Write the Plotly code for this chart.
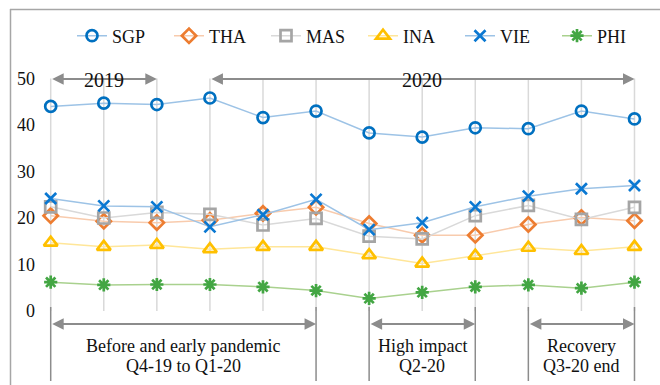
import plotly.graph_objects as go

# ---------------- data ----------------
months = ["Oct-19", "Nov-19", "Dec-19", "Jan-20", "Feb-20", "Mar-20",
          "Apr-20", "May-20", "Jun-20", "Jul-20", "Aug-20", "Sep-20"]
SGP = [44.0, 44.7, 44.4, 45.8, 41.6, 43.0, 38.3, 37.4, 39.4, 39.2, 43.0, 41.3]
THA = [20.5, 19.3, 19.0, 19.5, 21.0, 22.3, 18.8, 16.3, 16.3, 18.6, 20.1, 19.4]
MAS = [22.4, 20.0, 21.2, 20.8, 18.5, 19.9, 16.1, 15.5, 20.5, 22.7, 19.7, 22.3]
INA = [14.7, 13.8, 14.2, 13.3, 13.8, 13.8, 12.0, 10.2, 11.9, 13.6, 12.9, 13.8]
VIE = [24.2, 22.6, 22.4, 18.1, 20.7, 24.0, 17.5, 19.0, 22.4, 24.7, 26.3, 27.0]
PHI = [6.2, 5.6, 5.7, 5.7, 5.2, 4.4, 2.7, 4.0, 5.2, 5.6, 4.9, 6.2]
y_ticks = [0, 10, 20, 30, 40, 50]

years = [("2019", 0, 2), ("2020", 3, 11)]
periods = [(["Before and early pandemic", "Q4-19 to Q1-20"], 0, 5),
           (["High impact", "Q2-20"], 6, 8),
           (["Recovery", "Q3-20 end"], 9, 11)]

# ---------------- style ----------------
W, H = 660, 385
ML, MR, MT, MB = 40, 15, 69, 0
FONT = "Liberation Serif"
X_RANGE = [-0.2016, 11.198]
Y_RANGE = [-15.91, 52.04]
GRAY = "#8c8c8c"
TXT = "#111111"

def px_to_paper_x(px):
    return (px - ML) / (W - ML - MR)

def px_to_paper_y(py):
    return (H - MB - py) / (H - MT - MB)

def px_to_val_y(py):
    ppu = (H - MT - MB) / (Y_RANGE[1] - Y_RANGE[0])
    return Y_RANGE[1] - (py - MT) / ppu

series = [
    ("SGP", SGP, "circle-open", "#0070C0", "#9DC3E6", 11),
    ("THA", THA, "diamond-open", "#ED7D31", "#F8CBAD", 11),
    ("MAS", MAS, "square-open", "#A5A5A5", "#D9D9D9", 11),
    ("INA", INA, "triangle-up-open", "#FFC000", "#FFE699", 12),
    ("VIE", VIE, "x-thin-open", "#0A78D2", "#9DC3E6", 11),
    ("PHI", PHI, "asterisk-open", "#43A643", "#A9D18E", 11),
]

fig = go.Figure()
for name, vals, sym, mcol, lcol, size in series:
    fig.add_trace(go.Scatter(
        x=months, y=vals, name=name, mode="lines+markers",
        line=dict(color=lcol, width=1.5),
        marker=dict(symbol=sym, size=size, color=mcol,
                    line=dict(color=mcol, width=2.7)),
        cliponaxis=False,
    ))

shapes = []
# vertical gridlines
for i in range(len(months)):
    shapes.append(dict(type="line", xref="x", yref="y", x0=i, x1=i,
                       y0=y_ticks[0], y1=y_ticks[-1],
                       line=dict(color="#D9D9D9", width=1.5), layer="below"))
# bracket vertical lines
for _, a, b in periods:
    for i in (a, b):
        shapes.append(dict(type="line", xref="x", yref="y", x0=i, x1=i,
                           y0=px_to_val_y(307), y1=px_to_val_y(381),
                           line=dict(color=GRAY, width=1.5)))
# outer frame (top and left)
shapes.append(dict(type="line", xref="paper", yref="paper",
                   x0=px_to_paper_x(10), x1=px_to_paper_x(661),
                   y0=px_to_paper_y(9.5), y1=px_to_paper_y(9.5),
                   line=dict(color="#A6A6A6", width=1.5)))
shapes.append(dict(type="line", xref="paper", yref="paper",
                   x0=px_to_paper_x(10.5), x1=px_to_paper_x(10.5),
                   y0=px_to_paper_y(9), y1=px_to_paper_y(386),
                   line=dict(color="#A6A6A6", width=1.5)))

annotations = []

def double_arrow(a, b, yv):
    return dict(x=b, y=yv, ax=a, ay=yv, xref="x", yref="y", axref="x", ayref="y",
                text="", showarrow=True, arrowside="end+start",
                arrowhead=2, startarrowhead=2, arrowsize=1.15, startarrowsize=1.15,
                arrowwidth=2, arrowcolor=GRAY, standoff=0, startstandoff=0)

for label, a, b in years:
    annotations.append(double_arrow(a, b, px_to_val_y(79)))
mid_2019 = 1
mid_2020 = 7
annotations.append(dict(x=mid_2019, y=px_to_paper_y(67), xref="x", yref="paper",
                        text=years[0][0], showarrow=False,
                        font=dict(family=FONT, size=20, color=TXT)))
annotations.append(dict(x=mid_2020, y=px_to_paper_y(67), xref="x", yref="paper",
                        text=years[1][0], showarrow=False,
                        font=dict(family=FONT, size=20, color=TXT)))

for lines, a, b in periods:
    annotations.append(double_arrow(a, b, px_to_val_y(324)))
    for k, txt in enumerate(lines):
        annotations.append(dict(x=(a + b) / 2, y=px_to_val_y(346 + 20 * k),
                                xref="x", yref="y", text=txt, showarrow=False,
                                font=dict(family=FONT, size=18, color=TXT)))

fig.update_layout(
    width=W, height=H,
    margin=dict(l=ML, r=MR, t=MT, b=MB, pad=0, autoexpand=False),
    paper_bgcolor="white", plot_bgcolor="white",
    font=dict(family=FONT, size=18, color=TXT),
    showlegend=True,
    legend=dict(orientation="h", x=px_to_paper_x(72), xanchor="left",
                y=px_to_paper_y(36), yanchor="middle",
                font=dict(family=FONT, size=18, color=TXT),
                entrywidth=52, entrywidthmode="pixels",
                bgcolor="rgba(0,0,0,0)", itemclick=False),
    xaxis=dict(type="category", range=X_RANGE, showgrid=False, zeroline=False,
               showticklabels=False, showline=False, ticks=""),
    yaxis=dict(range=Y_RANGE, tickvals=y_ticks, showgrid=False, zeroline=False,
               showline=False, ticks="", ticklabelstandoff=4,
               tickfont=dict(family=FONT, size=18, color=TXT)),
    shapes=shapes,
    annotations=annotations,
)

fig.write_html("out.html",
               config={"displayModeBar": False},
               post_script="document.body.style.margin='0';document.body.style.padding='0';")
